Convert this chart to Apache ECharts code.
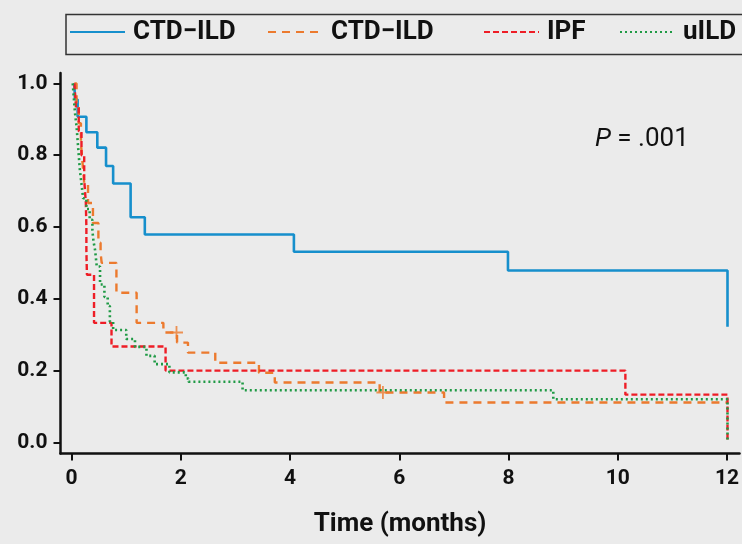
<!DOCTYPE html>
<html>
<head>
<meta charset="utf-8">
<script src="https://cdn.jsdelivr.net/npm/echarts@6/dist/echarts.min.js"></script>
<style>
  html, body { margin: 0; padding: 0; background: #EBEBEB; }
  #chart { width: 742px; height: 544px; }
</style>
</head>
<body>
<div id="chart"></div>
<script>
// ---- Data ----
const seriesNames = ['CTD-ILD-a', 'CTD-ILD-b', 'IPF', 'uILD'];
const legendLabels = ['CTD\u2212ILD', 'CTD\u2212ILD', 'IPF', 'uILD'];

const ctdATime = [0.05, 0.06, 0.11, 0.27, 0.47, 0.63, 0.76, 1.08, 1.34, 4.07, 7.99, 12.01];
const ctdASurv = [1.0, 0.955, 0.907, 0.864, 0.821, 0.770, 0.721, 0.627, 0.579, 0.531, 0.479, 0.322];

const ctdBTime = [0.05, 0.09, 0.13, 0.17, 0.20, 0.23, 0.30, 0.39, 0.49, 0.53, 0.55, 0.82, 1.19, 1.68, 1.93, 2.13, 2.63, 3.43, 3.72, 5.64, 6.82, 12.0];
const ctdBSurv = [1.0, 0.944, 0.889, 0.833, 0.778, 0.722, 0.667, 0.611, 0.556, 0.528, 0.5, 0.417, 0.333, 0.306, 0.278, 0.25, 0.222, 0.194, 0.167, 0.139, 0.111, 0.111];
const ctdBCensorTime = [1.92, 5.70];
const ctdBCensorSurv = [0.306, 0.139];

const ipfTime = [0.05, 0.08, 0.13, 0.18, 0.23, 0.26, 0.27, 0.27, 0.28, 0.41, 0.73, 1.72, 10.14, 12.01];
const ipfSurv = [1.0, 0.933, 0.867, 0.8, 0.733, 0.667, 0.6, 0.533, 0.467, 0.333, 0.267, 0.2, 0.133, 0.0];

const uildTime = [0.02, 0.04, 0.06, 0.09, 0.11, 0.13, 0.15, 0.18, 0.21, 0.27, 0.33, 0.38, 0.40, 0.43, 0.46, 0.52, 0.60, 0.66, 0.70, 0.76, 1.00, 1.16, 1.37, 1.52, 1.79, 2.09, 2.14, 3.13, 8.82, 12.01];
const uildSurv = [1.0, 0.96, 0.92, 0.88, 0.84, 0.80, 0.76, 0.72, 0.68, 0.65, 0.62, 0.59, 0.56, 0.535, 0.49, 0.44, 0.405, 0.38, 0.336, 0.313, 0.288, 0.266, 0.241, 0.218, 0.195, 0.178, 0.169, 0.145, 0.120, 0.0];

const xTicks = [0, 2, 4, 6, 8, 10, 12];
const yTicks = [0, 0.2, 0.4, 0.6, 0.8, 1.0];
const xAxisTitle = 'Time (months)';
const pText = '= .001';

// ---- Styling ----
const colors = ['#168FCC', '#EC7A2E', '#EE1D26', '#1F9A45'];
const zip = (a, b) => a.map((v, i) => [v, b[i]]);

const lineStyles = [
  { color: colors[0], width: 2.6, type: 'solid' },
  { color: colors[1], width: 2.4, type: [8, 6] },
  { color: colors[2], width: 2.4, type: [6, 3] },
  { color: colors[3], width: 2.6, type: [2, 3] }
];
const dataSets = [zip(ctdATime, ctdASurv), zip(ctdBTime, ctdBSurv), zip(ipfTime, ipfSurv), zip(uildTime, uildSurv)];

const series = seriesNames.map((n, i) => ({
  name: n,
  type: 'line',
  step: 'end',
  symbol: 'none',
  data: dataSets[i],
  lineStyle: lineStyles[i],
  itemStyle: { color: colors[i] },
  z: 2 + i
}));
series.push({
  name: 'censor',
  type: 'scatter',
  data: zip(ctdBCensorTime, ctdBCensorSurv),
  symbol: 'path://M4.3,0H5.7V4.3H10V5.7H5.7V10H4.3V5.7H0V4.3H4.3Z',
  symbolSize: 13,
  itemStyle: { color: colors[1] },
  z: 10
});

const legendLefts = [69, 267, 483, 619];
const legends = seriesNames.map((n, i) => ({
  data: [n],
  left: legendLefts[i],
  top: 19,
  itemWidth: 55,
  itemHeight: 26,
  padding: 0,
  selectedMode: false,
  formatter: () => legendLabels[i],
  itemStyle: { color: 'rgba(0,0,0,0)', borderWidth: 0, opacity: 0 },
  textStyle: { fontFamily: 'Roboto', fontWeight: 'bold', fontSize: 26, color: '#111', padding: [0, 0, 0, 3] }
}));

const chart = echarts.init(document.getElementById('chart'), null, { renderer: 'canvas' });
chart.setOption({
  backgroundColor: '#EBEBEB',
  animation: false,
  legend: legends,
  grid: { left: 60.5, right: 0, top: 73, bottom: 90.5, containLabel: false },
  xAxis: {
    type: 'value',
    min: -0.204,
    max: 12.23,
    name: xAxisTitle,
    nameLocation: 'middle',
    nameGap: 58,
    nameTextStyle: { fontFamily: 'Roboto', fontWeight: 'bold', fontSize: 26, color: '#111', verticalAlign: 'top' },
    axisLine: { onZero: false, lineStyle: { color: '#111', width: 2.5 } },
    axisTick: { show: true, length: 7, lineStyle: { width: 2, color: '#111' }, customValues: xTicks },
    axisLabel: { customValues: xTicks, margin: 15, fontFamily: 'Roboto', fontWeight: 'bold', fontSize: 21, color: '#111', formatter: v => String(v) },
    splitLine: { show: false }
  },
  yAxis: {
    type: 'value',
    min: -0.031,
    max: 1.029,
    axisLine: { show: true, onZero: false, lineStyle: { color: '#111', width: 2.5 } },
    axisTick: { show: true, length: 7, lineStyle: { width: 2, color: '#111' }, customValues: yTicks },
    axisLabel: { customValues: yTicks, margin: 13, fontFamily: 'Roboto', fontWeight: 'bold', fontSize: 21, color: '#111', formatter: v => v.toFixed(1) },
    splitLine: { show: false }
  },
  graphic: [
    {
      type: 'rect',
      left: 63.5, top: 12,
      shape: { width: 720, height: 40 },
      style: { fill: 'none', stroke: '#333', lineWidth: 1.5 },
      silent: true
    },
    {
      type: 'text',
      left: 595, top: 126,
      style: {
        text: '{i|P} ' + pText,
        rich: {
          i: { fontFamily: 'Roboto', fontStyle: 'italic', fontSize: 26, fill: '#111' }
        },
        fontFamily: 'Roboto', fontSize: 26, fill: '#111'
      }
    }
  ],
  series: series
});
</script>
</body>
</html>
